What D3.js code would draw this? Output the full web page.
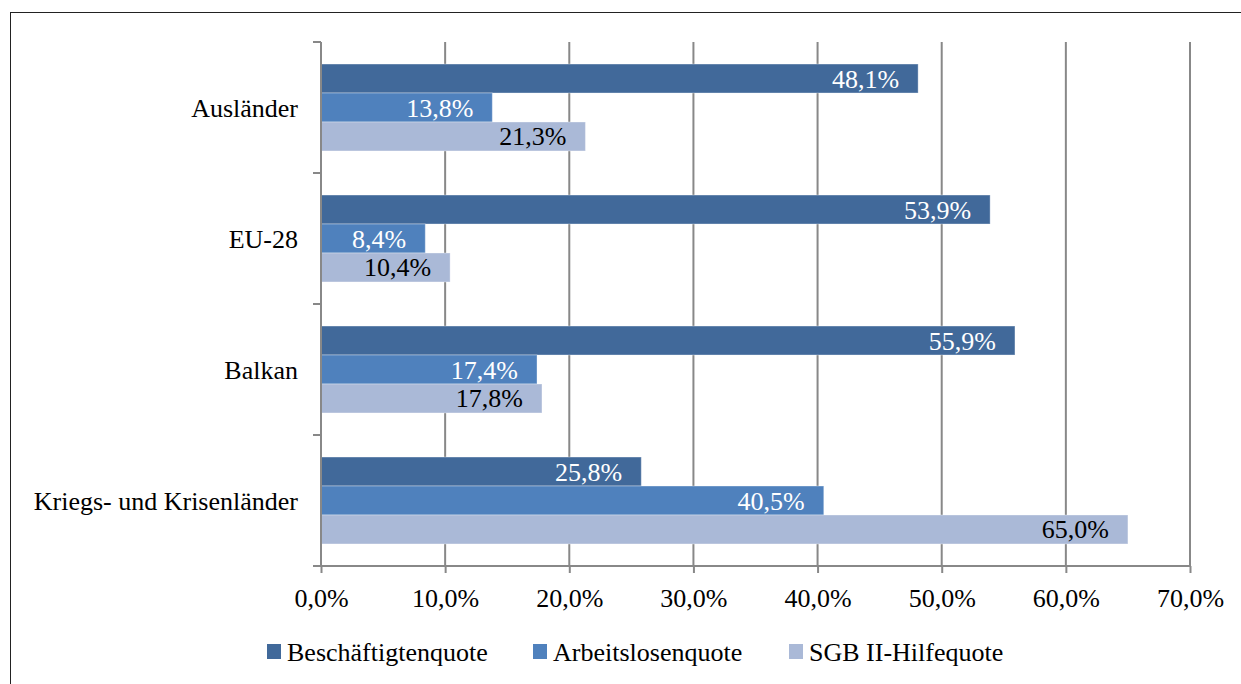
<!DOCTYPE html>
<html>
<head>
<meta charset="utf-8">
<script src="https://cdn.jsdelivr.net/npm/d3@7"></script>
<style>
	body { margin: 0; background: #fff; }
	svg text { font-family: "Liberation Serif", "Times New Roman", serif; }
</style>
</head>
<body>
<div id="graph"></div>
<script>
/*
 * Quoten nach Herkunftsgruppe, in Prozent
 */
var categories = [ "Ausländer", "EU-28", "Balkan", "Kriegs- und Krisenländer" ];
var seriesNames = [ "Beschäftigtenquote", "Arbeitslosenquote", "SGB II-Hilfequote" ];
var beschaeftigt = [ 48.1, 53.9, 55.9, 25.8 ];
var arbeitslos = [ 13.8, 8.4, 17.4, 40.5 ];
var sgb = [ 21.3, 10.4, 17.8, 65.0 ];
var xTicks = [ 0, 10, 20, 30, 40, 50, 60, 70 ];

var colors = [ "#41699a", "#4f81bd", "#aab9d7" ];
var labelColors = [ "#fff", "#fff", "#000" ];
var seriesValues = [ beschaeftigt, arbeitslos, sgb ];

var width = 1241, height = 684;
var plotLeft = 321, plotRight = 1190, plotTop = 42, plotBottom = 566;
var fontSize = 26;

var de = d3.formatLocale({ decimal: ",", thousands: ".", grouping: [3],
	currency: [ "", " €" ] });
var pct = function (v) { return de.format(".1f")(v) + "%"; };

var xScale = d3.scaleLinear()
	.domain([0, 70])
	.range([plotLeft, plotRight]);

var yScale = d3.scaleBand()
	.domain(categories)
	.range([plotTop, plotBottom]);

var inner = d3.scaleBand()
	.domain(seriesNames)
	.range([0, yScale.bandwidth()])
	.paddingOuter(0.76);

var svg = d3.select("#graph").append("svg")
	.attr("width", width)
	.attr("height", height);

svg.append("rect")
	.attr("x", 10.5).attr("y", 12.5)
	.attr("width", 1240).attr("height", 680)
	.attr("fill", "none")
	.attr("stroke", "#222")
	.attr("stroke-width", 1);

// vertical grid
svg.append("g")
	.selectAll("line")
	.data(xTicks.slice(1))
	.join("line")
	.attr("x1", function (d) { return xScale(d); })
	.attr("x2", function (d) { return xScale(d); })
	.attr("y1", plotTop)
	.attr("y2", plotBottom)
	.attr("stroke", "#888")
	.attr("stroke-width", 2);

// bars
var rows = [];
categories.forEach(function (cat, i) {
	seriesNames.forEach(function (s, j) {
		rows.push({ cat: cat, series: s, idx: j, value: seriesValues[j][i] });
	});
});

var bars = svg.append("g");
bars.selectAll("rect")
	.data(rows)
	.join("rect")
	.attr("x", xScale(0))
	.attr("y", function (d) { return yScale(d.cat) + inner(d.series); })
	.attr("width", function (d) { return xScale(d.value) - xScale(0); })
	.attr("height", inner.bandwidth())
	.attr("fill", function (d) { return colors[d.idx]; })
	.attr("stroke", "#fff")
	.attr("stroke-opacity", 0.35)
	.attr("stroke-width", 1);

bars.selectAll("text")
	.data(rows)
	.join("text")
	.attr("x", function (d) { return xScale(d.value) - 19; })
	.attr("y", function (d) {
		return yScale(d.cat) + inner(d.series) + inner.bandwidth() / 2 + 9;
	})
	.attr("text-anchor", "end")
	.attr("font-size", fontSize)
	.attr("fill", function (d) { return labelColors[d.idx]; })
	.text(function (d) { return pct(d.value); });

// axes
var xAxis = d3.axisBottom(xScale)
	.tickValues(xTicks)
	.tickSize(7)
	.tickFormat(pct);

var gx = svg.append("g")
	.attr("transform", "translate(0," + plotBottom + ")")
	.call(xAxis);
gx.select(".domain")
	.attr("d", "M" + (plotLeft - 8) + ",0H" + plotRight)
	.attr("stroke", "#888").attr("stroke-width", 2);
gx.selectAll(".tick line").attr("stroke", "#888").attr("stroke-width", 2);
gx.selectAll(".tick text")
	.attr("font-family", "Liberation Serif")
	.attr("font-size", fontSize)
	.attr("fill", "#000")
	.attr("dy", null)
	.attr("y", 41);

var gy = svg.append("g");
gy.append("line")
	.attr("x1", plotLeft).attr("x2", plotLeft)
	.attr("y1", plotTop).attr("y2", plotBottom)
	.attr("stroke", "#888").attr("stroke-width", 2);
gy.selectAll("line.tick")
	.data(categories.map(function (c) { return yScale(c); }).concat([plotBottom]))
	.join("line")
	.attr("class", "tick")
	.attr("x1", plotLeft - 8).attr("x2", plotLeft)
	.attr("y1", function (d) { return d; })
	.attr("y2", function (d) { return d; })
	.attr("stroke", "#888").attr("stroke-width", 2);
gy.selectAll("text")
	.data(categories)
	.join("text")
	.attr("x", 298)
	.attr("y", function (d) { return yScale(d) + yScale.bandwidth() / 2 + 9; })
	.attr("text-anchor", "end")
	.attr("font-size", fontSize)
	.attr("fill", "#000")
	.text(function (d) { return d; });

// legend
var legendX = [ 267, 533, 789 ];
var legend = svg.append("g")
	.selectAll("g")
	.data(seriesNames)
	.join("g")
	.attr("transform", function (d, i) {
		return "translate(" + legendX[i] + ",644)";
	});
legend.append("rect")
	.attr("width", 14).attr("height", 15)
	.attr("fill", function (d, i) { return colors[i]; });
legend.append("text")
	.attr("x", 20).attr("y", 17)
	.attr("font-size", fontSize)
	.attr("fill", "#000")
	.text(function (d) { return d; });
</script>
</body>
</html>
